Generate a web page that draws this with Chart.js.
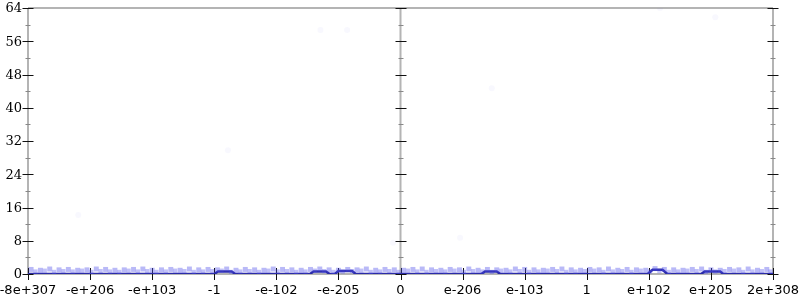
<!DOCTYPE html>
<html>
<head>
<meta charset="utf-8">
<script src="https://cdn.jsdelivr.net/npm/chart.js@4.4.1/dist/chart.umd.min.js"></script>
<style>
  html, body { margin: 0; background: #fff; }
</style>
</head>
<body>
<canvas id="chart" width="800" height="300"></canvas>
<script>
// tick labels on the x axis (one per integer position 0..12)
const xLabels = ["-8e+307", "-e+206", "-e+103", "-1", "-e-102", "-e-205", "0",
  "e-206", "e-103", "1", "e+102", "e+205", "2e+308"];
const yTicks = [0, 8, 16, 24, 32, 40, 48, 56, 64];

// dark line: flat at zero with a few small bumps
const lineX = [0, 3.0, 3.06, 3.28, 3.34, 4.54, 4.6, 4.8, 4.86, 4.94, 5.0, 5.22, 5.28,
  7.3, 7.36, 7.55, 7.61, 9.98, 10.06, 10.22, 10.3, 10.84, 10.9, 11.15, 11.2, 12];
const lineY = [0, 0, 0.6, 0.6, 0, 0, 0.6, 0.6, 0, 0, 0.7, 0.7, 0,
  0, 0.6, 0.6, 0, 0, 1.0, 1.0, 0, 0, 0.6, 0.6, 0, 0];

// light blue samples hugging the bottom (two interleaved rows)
const bandX = [0.05, 0.2, 0.35, 0.5, 0.65, 0.8, 0.95, 1.1, 1.25, 1.4, 1.55, 1.7, 1.85, 2.0,
  2.15, 2.3, 2.45, 2.6, 2.75, 2.9, 3.05, 3.2, 3.35, 3.5, 3.65, 3.8, 3.95, 4.1, 4.25, 4.4,
  4.55, 4.7, 4.85, 5.0, 5.15, 5.3, 5.45, 5.6, 5.75, 5.9, 6.05, 6.2, 6.35, 6.5, 6.65, 6.8,
  6.95, 7.1, 7.25, 7.4, 7.55, 7.7, 7.85, 8.0, 8.15, 8.3, 8.45, 8.6, 8.75, 8.9, 9.05, 9.2,
  9.35, 9.5, 9.65, 9.8, 9.95, 10.1, 10.25, 10.4, 10.55, 10.7, 10.85, 11.0, 11.15, 11.3,
  11.45, 11.6, 11.75, 11.9];
const bandY = [1.1, 0.9, 1.2, 1.0, 1.1, 0.9, 1.0, 1.2, 1.1, 0.9, 1.0, 1.1, 1.2, 0.9, 1.0,
  1.1, 0.9, 1.2, 1.0, 1.1, 1.0, 1.2, 0.9, 1.1, 1.0, 0.9, 1.2, 1.1, 1.0, 0.9, 1.1, 1.2,
  1.0, 0.9, 1.1, 1.0, 1.2, 0.9, 1.1, 1.0, 0.9, 1.1, 1.2, 1.0, 0.9, 1.1, 1.0, 1.2, 0.9,
  1.1, 1.0, 0.9, 1.2, 1.1, 1.0, 0.9, 1.1, 1.2, 1.0, 0.9, 1.1, 1.0, 1.2, 0.9, 1.1, 1.0,
  0.9, 1.3, 1.1, 1.0, 0.9, 1.1, 1.2, 1.0, 0.9, 1.1, 1.0, 1.2, 0.9, 1.1];
const band2X = [0.12, 0.27, 0.42, 0.57, 0.72, 0.87, 1.02, 1.17, 1.32, 1.47, 1.62, 1.77,
  1.92, 2.07, 2.22, 2.37, 2.52, 2.67, 2.82, 2.97, 3.12, 3.27, 3.42, 3.57, 3.72, 3.87,
  4.02, 4.17, 4.32, 4.47, 4.62, 4.77, 4.92, 5.07, 5.22, 5.37, 5.52, 5.67, 5.82, 5.97,
  6.12, 6.27, 6.42, 6.57, 6.72, 6.87, 7.02, 7.17, 7.32, 7.47, 7.62, 7.77, 7.92, 8.07,
  8.22, 8.37, 8.52, 8.67, 8.82, 8.97, 9.12, 9.27, 9.42, 9.57, 9.72, 9.87, 10.02, 10.17,
  10.32, 10.47, 10.62, 10.77, 10.92, 11.07, 11.22, 11.37, 11.52, 11.67, 11.82, 11.96];
const band2Y = [0.6, 0.8, 0.5, 0.7, 0.6, 0.8, 0.5, 0.7, 0.6, 0.5, 0.8, 0.6, 0.7, 0.5,
  0.6, 0.8, 0.7, 0.5, 0.6, 0.7, 0.8, 0.5, 0.6, 0.7, 0.5, 0.8, 0.6, 0.7, 0.5, 0.6, 0.8,
  0.7, 0.5, 0.6, 0.7, 0.8, 0.5, 0.6, 0.7, 0.5, 0.8, 0.6, 0.5, 0.7, 0.6, 0.8, 0.5, 0.7,
  0.6, 0.5, 0.8, 0.6, 0.7, 0.5, 0.6, 0.8, 0.7, 0.5, 0.6, 0.7, 0.8, 0.5, 0.6, 0.7, 0.5,
  0.8, 0.6, 0.7, 0.5, 0.6, 0.8, 0.7, 0.5, 0.6, 0.7, 0.8, 0.5, 0.6, 0.7, 0.6];

// barely visible stray samples higher up
const strayX = [0.81, 3.22, 4.71, 5.14, 6.96, 7.47, 10.18, 11.07, 5.88];
const strayY = [14.2, 29.8, 58.7, 58.7, 8.7, 44.7, 64.0, 61.8, 7.5];

function pts(xs, ys) {
  return xs.map((x, i) => ({ x: x, y: ys[i] }));
}

const axisLines = {
  id: "axisLines",
  beforeDatasetsDraw(chart) {
    const { ctx, chartArea: a, scales: { x, y } } = chart;
    ctx.save();
    ctx.strokeStyle = "#b4b4b4";
    ctx.lineWidth = 2;
    ctx.beginPath();
    ctx.moveTo(a.left, a.top);
    ctx.lineTo(a.right, a.top);
    [0, 6, 12].forEach((v) => {
      const px = x.getPixelForValue(v);
      ctx.moveTo(px, a.top);
      ctx.lineTo(px, a.bottom);
    });
    ctx.moveTo(a.left, a.bottom);
    ctx.lineTo(a.right, a.bottom);
    ctx.stroke();

    ctx.lineWidth = 1;
    [0, 6, 12].forEach((v) => {
      const px = Math.round(x.getPixelForValue(v));
      for (let t = 0; t <= 64; t += 4) {
        const py = Math.round(y.getPixelForValue(t)) + 0.5;
        const major = t % 8 === 0;
        const len = major ? 5.5 : 2.5;
        ctx.strokeStyle = major ? "#111" : "#888";
        ctx.beginPath();
        ctx.moveTo(px - len, py);
        ctx.lineTo(px + len, py);
        ctx.stroke();
      }
    });
    ctx.strokeStyle = "#111";
    for (let v = 0; v <= 12; v++) {
      const px = Math.round(x.getPixelForValue(v)) + 0.5;
      ctx.beginPath();
      ctx.moveTo(px, a.bottom - 6);
      ctx.lineTo(px, a.bottom + 6);
      ctx.stroke();
    }

    // tick labels
    ctx.fillStyle = "#000";
    ctx.textBaseline = "middle";
    ctx.font = "13px 'DejaVu Serif'";
    ctx.textAlign = "right";
    yTicks.forEach((t) => {
      ctx.fillText(String(t), a.left - 6, y.getPixelForValue(t) + 1);
    });
    ctx.font = "13px 'DejaVu Sans'";
    ctx.textAlign = "center";
    xLabels.forEach((lbl, i) => {
      ctx.fillText(lbl, x.getPixelForValue(i), a.bottom + 17);
    });
    ctx.restore();
  }
};

new Chart(document.getElementById("chart"), {
  type: "scatter",
  data: {
    datasets: [
      {
        data: pts(strayX, strayY),
        pointRadius: 3,
        pointBorderWidth: 0,
        pointBackgroundColor: "rgba(120,120,230,0.05)"
      },
      {
        data: pts(bandX, bandY),
        pointStyle: "rect",
        pointRadius: 3.5,
        pointBorderWidth: 0,
        pointBackgroundColor: "rgba(80,80,235,0.4)"
      },
      {
        data: pts(band2X, band2Y),
        pointStyle: "rect",
        pointRadius: 3,
        pointBorderWidth: 0,
        pointBackgroundColor: "rgba(80,80,235,0.35)"
      },
      {
        data: pts(lineX, lineY),
        showLine: true,
        pointRadius: 0,
        borderColor: "#2a2aa8",
        borderWidth: 2.5,
        tension: 0
      }
    ]
  },
  options: {
    responsive: false,
    animation: false,
    devicePixelRatio: 1,
    layout: { padding: { top: 8, right: 27, left: 28, bottom: 26 } },
    plugins: { legend: { display: false }, tooltip: { enabled: false } },
    scales: {
      x: {
        type: "linear",
        display: false,
        min: 0,
        max: 12
      },
      y: {
        display: false,
        min: 0,
        max: 64
      }
    }
  },
  plugins: [axisLines]
});
</script>
</body>
</html>
